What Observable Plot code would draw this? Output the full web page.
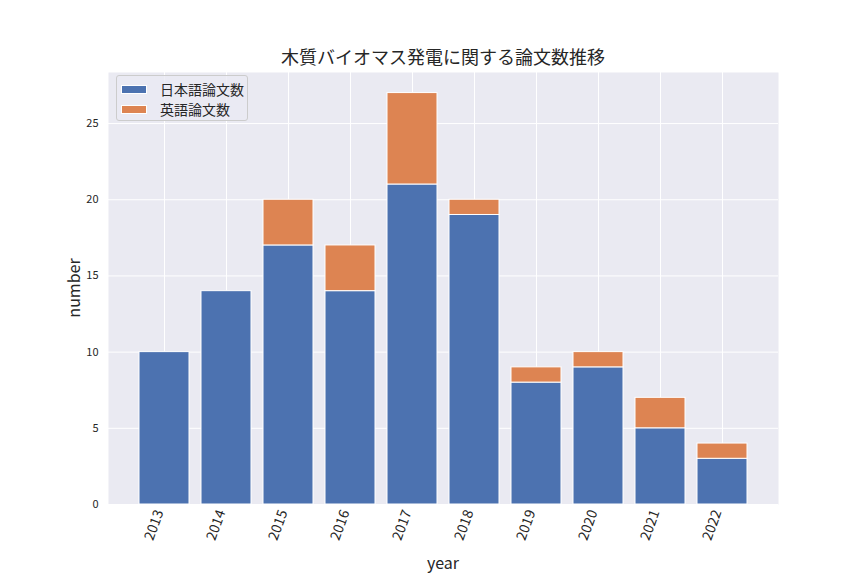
<!DOCTYPE html>
<html><head><meta charset="utf-8">
<script src="https://cdn.jsdelivr.net/npm/d3@7"></script>
<script src="https://cdn.jsdelivr.net/npm/@observablehq/plot@0.6"></script>
<style>
body{margin:0;background:#fff;}
#wrap{position:relative;width:864px;height:576px;font-family:"Noto Sans CJK JP","Noto Sans",sans-serif;color:#262626;}
#wrap svg{position:absolute;left:0;top:0;}
.title{position:absolute;left:443px;top:56px;transform:translate(-50%,-50%);font-size:18px;white-space:nowrap;}
.xlab{position:absolute;left:443px;top:562px;transform:translate(-50%,-50%);font-size:16px;}
.ylab{position:absolute;left:73px;top:288px;transform:translate(-50%,-50%) rotate(-90deg);font-size:16px;}
.legend{position:absolute;left:116px;top:75px;width:132px;height:46px;box-sizing:border-box;background:rgba(234,234,242,0.8);border:1px solid #cccccc;border-radius:3px;}
.item{position:absolute;left:4px;height:16px;display:flex;align-items:center;font-size:14px;}
.sw{width:26px;height:9px;box-sizing:border-box;border:1px solid #fff;margin-right:13px;}
</style></head>
<body><div id="wrap"></div>
<script>
const years = ["2013","2014","2015","2016","2017","2018","2019","2020","2021","2022"];
const japanese = [10,14,17,14,21,19,8,9,5,3];
const english = [0,0,3,3,6,1,1,1,2,1];
const seriesNames = ["日本語論文数","英語論文数"];
const seriesColors = ["#4C72B0","#DD8452"];
const yTicks = [0,5,10,15,20,25];
const titleText = "木質バイオマス発電に関する論文数推移";

const rows = [];
years.forEach((y,i)=>{
  rows.push({year:y, series:seriesNames[0], value:japanese[i]});
  rows.push({year:y, series:seriesNames[1], value:english[i]});
});
const maxTotal = d3.max(years, (y,i)=>japanese[i]+english[i]);

const chart = Plot.plot({
  width:864, height:576,
  marginLeft:108, marginRight:86, marginTop:72, marginBottom:72,
  style:{fontFamily:'"Noto Sans CJK JP","Noto Sans",sans-serif', color:"#262626", background:"transparent"},
  x:{type:"band", domain:years, paddingInner:0.2, paddingOuter:0.49, label:null},
  y:{domain:[0, maxTotal*1.05], label:null},
  color:{domain:seriesNames, range:seriesColors},
  marks:[
    Plot.frame({fill:"#EAEAF2", stroke:null}),
    Plot.gridY(yTicks, {stroke:"#fff", strokeOpacity:1, strokeWidth:1}),
    Plot.gridX(years, {stroke:"#fff", strokeOpacity:1, strokeWidth:1}),
    Plot.barY(rows, {x:"year", y:"value", fill:"series", stroke:"#fff", strokeWidth:1}),
    Plot.axisY(yTicks, {tickSize:0, tickPadding:10, fontSize:11, label:null}),
    Plot.axisX(years, {tickSize:0, tickPadding:6, fontSize:14, tickRotate:-70, dx:-5, label:null})
  ]
});
const wrap = document.getElementById("wrap");
wrap.appendChild(chart);

const t = document.createElement("div"); t.className="title"; t.textContent=titleText; wrap.appendChild(t);
const xl = document.createElement("div"); xl.className="xlab"; xl.textContent="year"; wrap.appendChild(xl);
const yl = document.createElement("div"); yl.className="ylab"; yl.textContent="number"; wrap.appendChild(yl);
const lg = document.createElement("div"); lg.className="legend";
seriesNames.forEach((n,i)=>{
  const it = document.createElement("div"); it.className="item"; it.style.top=(5+i*20)+"px";
  const sw = document.createElement("div"); sw.className="sw"; sw.style.background=seriesColors[i];
  const tx = document.createElement("span"); tx.textContent=n;
  it.appendChild(sw); it.appendChild(tx); lg.appendChild(it);
});
wrap.appendChild(lg);
</script></body></html>
